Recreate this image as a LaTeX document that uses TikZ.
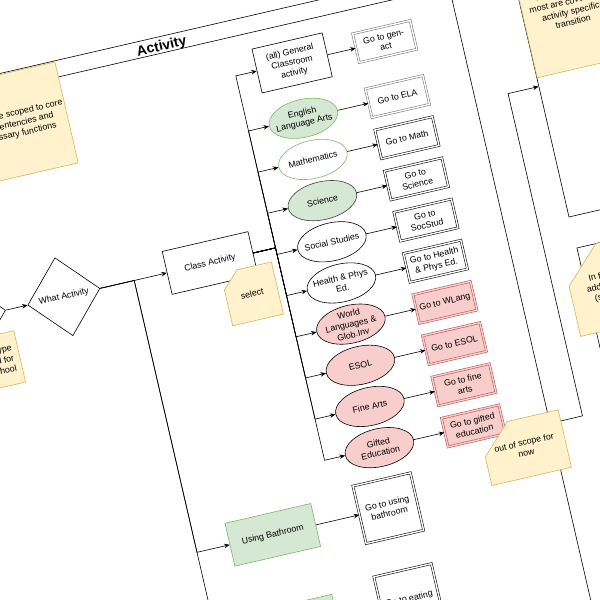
\documentclass[tikz,border=0pt]{standalone}
\usepackage{fontspec}
\setmainfont{Liberation Sans}
\usetikzlibrary{shapes.geometric,shapes.misc,arrows.meta}

\definecolor{grfill}{HTML}{D5E8D4}
\definecolor{grline}{HTML}{82B366}
\definecolor{pkfill}{HTML}{F8CECC}
\definecolor{pkline}{HTML}{B85450}
\definecolor{ntfill}{HTML}{FFF2CC}
\definecolor{ntline}{HTML}{D6B656}

\tikzset{
  procbox/.style={draw, rectangle, minimum width=88pt, minimum height=44pt, inner sep=1pt, align=center},
  greenbox/.style={procbox, fill=grfill, draw=grline},
  choice/.style={draw, diamond, minimum width=74pt, minimum height=80pt, inner sep=0pt, align=center},
  subj/.style={draw, ellipse, minimum width=70pt, minimum height=38pt, inner sep=-4pt, align=center},
  gobox/.style={draw, double, double distance=1.4pt, line width=0.55pt, minimum width=59pt, minimum height=29.5pt, inner sep=1pt, align=center},
  greygo/.style={gobox, draw=black!55},
  redgo/.style={gobox, fill=pkfill, draw=pkline, double=pkfill},
  note/.style={draw=ntline, fill=ntfill, rectangle, inner sep=1pt, align=center},
  card/.style={note, chamfered rectangle, chamfered rectangle corners=north west, chamfered rectangle xsep=20pt, chamfered rectangle ysep=20pt}
}

\begin{document}
\begin{tikzpicture}[x=1pt, y=-1pt, line width=0.6pt, font=\fontsize{8.8}{10.5}\selectfont,
  >={Stealth[length=5.5pt,width=4.5pt]}]
\useasboundingbox (0,0) rectangle (600,600);
\clip (0,0) rectangle (600,600);
\begin{scope}[rotate=13, transform shape]

% Activity lane
\draw (-146,71.6) rectangle (440.6,760);
\draw (-146,88.1) -- (440.6,88.1);
\node[font=\fontsize{14}{16}\selectfont\bfseries] (title) at (147,82) {Activity};

% next lanes
\node[draw, minimum width=194pt, minimum height=267.8pt] (trbox) at (602.6,205.5) {};
\node[draw, minimum width=194pt, minimum height=190pt] (actbox) at (603.4,466.4) {};

% choice
\node[choice] (prev) at (-101.4,303.5) {};
\node[choice] (what) at (-4.5,303.5) {What Activity};
\node[procbox] (class) at (145.5,303.5) {Class Activity};
\node[greenbox] (bath) at (145.5,582.5) {Using Bathroom};
\node[greenbox] (eat) at (145.5,675.7) {Eating};
\node[gobox, minimum height=59pt] (gobath) at (264,582.5) {Go to using\\bathroom};
\node[gobox, minimum height=59pt] (goeat) at (264,675.7) {Go to eating};

% subjects
\node[procbox, minimum width=72pt, minimum height=45pt] (gen) at (270.5,127) {(all) General\\Classroom\\activity};
\node[subj, fill=grfill, draw=grline] (ela) at (269,183.5) {English\\Language Arts};
\node[subj, draw=grline] (math) at (269,225.75) {Mathematics};
\node[subj, fill=grfill, draw=black!75] (sci) at (269,268) {Science};
\node[subj] (soc) at (269,310.25) {Social Studies};
\node[subj] (hpe) at (269,352.5) {Health \& Phys\\Ed.};
\node[subj, fill=pkfill] (wl) at (269,394.75) {World\\Languages \&\\Glob.Inv};
\node[subj, fill=pkfill] (esol) at (269,437) {ESOL};
\node[subj, fill=pkfill] (fine) at (269,479.25) {Fine Arts};
\node[subj, fill=pkfill] (gift) at (269,521.5) {Gifted\\Education};

% go to
\node[greygo] (gogen) at (365.5,127) {Go to gen-\\act};
\node[greygo] (goela) at (365.5,183.5) {Go to ELA};
\node[gobox] (gomath) at (365.5,225.75) {Go to Math};
\node[gobox] (gosci) at (365.5,268) {Go to\\Science};
\node[gobox] (gosoc) at (365.5,310.25) {Go to\\SocStud};
\node[gobox] (gohpe) at (365.5,352.5) {Go to Health\\\& Phys Ed.};
\node[redgo] (gowl) at (365.5,394.75) {Go to WLang};
\node[redgo] (goesol) at (365.5,437) {Go to ESOL};
\node[redgo] (gofine) at (365.5,479.25) {Go to fine\\arts};
\node[redgo] (gogift) at (365.5,521.5) {Go to gifted\\education};

% arrows
\draw[->] (prev.east) -- (what.west);
\draw[->] (what.east) -- (class.west);
\draw[->] (what.east) -- (67.7,303.5) -- (67.7,582.5) -- (bath.west);
\draw[->] (what.east) -- (67.7,303.5) -- (67.7,675.7) -- (eat.west);
\draw[->] (bath.east) -- (gobath.west);
\draw[->] (eat.east) -- (goeat.west);

\draw[->] (class.east) -- (212.7,303.5) -- (212.7,127) -- (gen.west);
\draw[->] (class.east) -- (212.7,303.5) -- (212.7,183.5) -- (ela.west);
\draw[->] (class.east) -- (212.7,303.5) -- (212.7,225.75) -- (math.west);
\draw[->] (class.east) -- (212.7,303.5) -- (212.7,268) -- (sci.west);
\draw[->] (class.east) -- (212.7,303.5) -- (212.7,310.25) -- (soc.west);
\draw[->] (class.east) -- (212.7,303.5) -- (212.7,352.5) -- (hpe.west);
\draw[->] (class.east) -- (212.7,303.5) -- (212.7,394.75) -- (wl.west);
\draw[->] (class.east) -- (212.7,303.5) -- (212.7,437) -- (esol.west);
\draw[->] (class.east) -- (212.7,303.5) -- (212.7,479.25) -- (fine.west);
\draw[->] (class.east) -- (212.7,303.5) -- (212.7,521.5) -- (gift.west);

\draw[->] (gen.east) -- (gogen.west);
\draw[->] (ela.east) -- (goela.west);
\draw[->] (math.east) -- (gomath.west);
\draw[->] (sci.east) -- (gosci.west);
\draw[->] (soc.east) -- (gosoc.west);
\draw[->] (hpe.east) -- (gohpe.west);
\draw[->] (wl.east) -- (gowl.west);
\draw[->] (esol.east) -- (goesol.west);
\draw[->] (fine.east) -- (gofine.west);
\draw[->] (gift.east) -- (gogift.west);

\draw[->] (gogift.south east) -- (474,536.25) -- (474,205.5) -- (trbox.west);

% notes
\node[note, minimum width=103.5pt, minimum height=103.5pt] (scopenote) at (-12.2,124.5) {Should be scoped to core\\compentencies and\\necessary functions};
\node[note, minimum width=53pt, minimum height=52.6pt] (typenote) at (-87.5,351.7) {Class type\\scoped for\\this school};
\node[card, minimum width=52pt, minimum height=53.5pt] (selnote) at (179.5,343) {select};
\node[card, minimum width=74pt, minimum height=57.5pt] (oosnote) at (410.9,554.3) {out of scope for\\now};
\node[note, minimum width=95pt, minimum height=124.6pt] (trnote) at (553.5,134.3) {Transitions here;\\most are covered by\\activity specific\\transition};
\node[card, minimum width=74pt, minimum height=87pt] (futnote) at (543.4,414.9) {In future we may\\add more activities\\(scope for later)};

\end{scope}
\end{tikzpicture}
\end{document}
